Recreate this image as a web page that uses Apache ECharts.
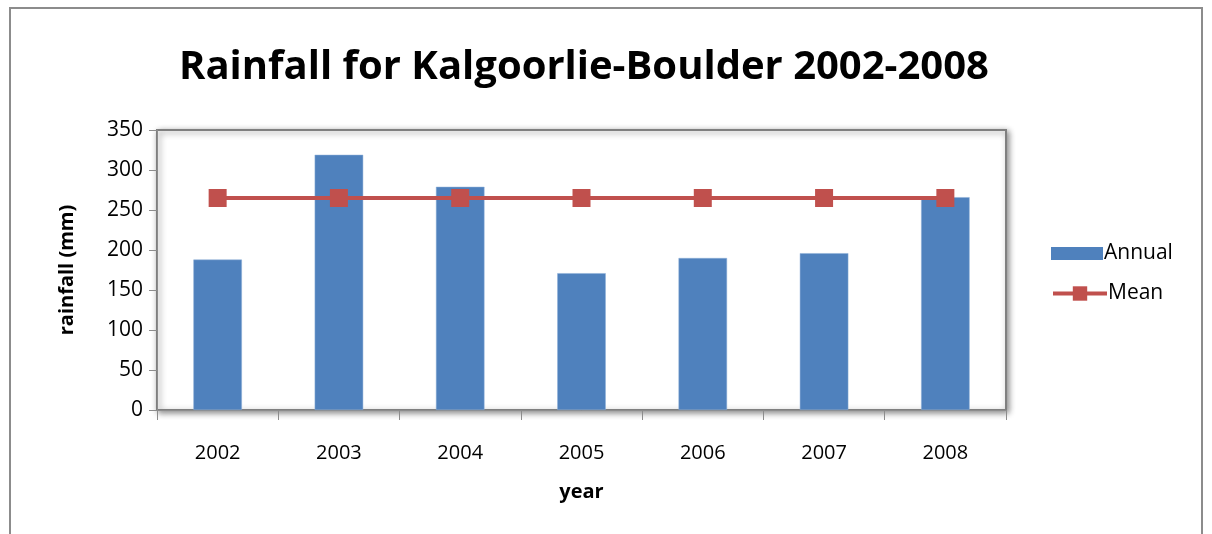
<!DOCTYPE html>
<html>
<head>
<meta charset="utf-8">
<script src="https://cdn.jsdelivr.net/npm/echarts@6/dist/echarts.min.js"></script>
<style>
  html, body { margin: 0; padding: 0; background: #fff; }
  #chart { width: 1212px; height: 534px; }
</style>
</head>
<body>
<div id="chart"></div>
<script>
const years = ['2002', '2003', '2004', '2005', '2006', '2007', '2008'];
const annual = [188, 319, 279, 171, 190, 196, 266];
const mean = [265, 265, 265, 265, 265, 265, 265];
const yTicks = { min: 0, max: 350, interval: 50 };

const font = '"Open Sans", "Noto Sans", sans-serif';

const chart = echarts.init(document.getElementById('chart'));

const legendText = { fontSize: 21, color: '#000', padding: [0, 0, 0, -4] };

const option = {
  backgroundColor: '#fff',
  animation: false,
  textStyle: { fontFamily: font },
  graphic: [
    {
      type: 'rect',
      shape: { x: 10, y: 8, width: 1192, height: 540 },
      style: { fill: 'none', stroke: '#8c8c8c', lineWidth: 2 },
      silent: true
    }
  ],
  title: {
    text: 'Rainfall for Kalgoorlie-Boulder 2002-2008',
    left: 579,
    textAlign: 'center',
    top: 43,
    textStyle: { fontSize: 40, fontWeight: 'bold', color: '#000', fontFamily: font }
  },
  legend: [
    {
      left: 1046,
      top: 238,
      itemWidth: 52,
      itemHeight: 13,
      textStyle: legendText,
      data: [{ name: 'Annual', icon: 'rect', itemStyle: { borderWidth: 0 } }]
    },
    {
      left: 1046,
      top: 278,
      itemWidth: 54,
      itemHeight: 18,
      textStyle: legendText,
      lineStyle: { width: 4 },
      data: [{ name: 'Mean', lineStyle: { width: 4, color: '#c0504d' } }]
    }
  ],
  grid: {
    left: 157,
    right: 206,
    top: 130,
    bottom: 124,
    show: true,
    backgroundColor: '#fff',
    borderColor: '#7f7f7f',
    borderWidth: 2,
    shadowColor: 'rgba(0,0,0,0.45)',
    shadowBlur: 6,
    shadowOffsetX: 2,
    shadowOffsetY: 2
  },
  xAxis: {
    type: 'category',
    data: years,
    name: 'year',
    nameLocation: 'middle',
    nameGap: 72,
    nameTextStyle: { fontSize: 20, fontWeight: 'bold', color: '#000' },
    axisLine: { lineStyle: { color: '#8c8c8c', width: 1 } },
    axisTick: { show: true, alignWithLabel: false, length: 10, lineStyle: { color: '#8c8c8c' } },
    axisLabel: { fontSize: 20, color: '#000', margin: 33 },
    splitLine: { show: false }
  },
  yAxis: {
    type: 'value',
    min: yTicks.min,
    max: yTicks.max,
    interval: yTicks.interval,
    name: 'rainfall (mm)',
    nameLocation: 'middle',
    nameGap: 80,
    nameRotate: 90,
    nameTextStyle: { fontSize: 20, fontWeight: 'bold', color: '#000' },
    axisLine: { show: true, lineStyle: { color: '#8c8c8c', width: 1 } },
    axisTick: { show: true, length: 8, lineStyle: { color: '#8c8c8c' } },
    axisLabel: { fontSize: 21, color: '#000', margin: 14 },
    splitLine: { show: false }
  },
  series: [
    {
      name: 'Annual',
      type: 'bar',
      data: annual,
      barWidth: '40%',
      itemStyle: { color: '#4f81bd', borderColor: '#8fb0d8', borderWidth: 0.5 }
    },
    {
      name: 'Mean',
      type: 'line',
      data: mean,
      symbol: 'rect',
      symbolSize: 18,
      lineStyle: { color: '#c0504d', width: 4 },
      itemStyle: { color: '#c0504d' }
    }
  ]
};

chart.setOption(option);
</script>
</body>
</html>
